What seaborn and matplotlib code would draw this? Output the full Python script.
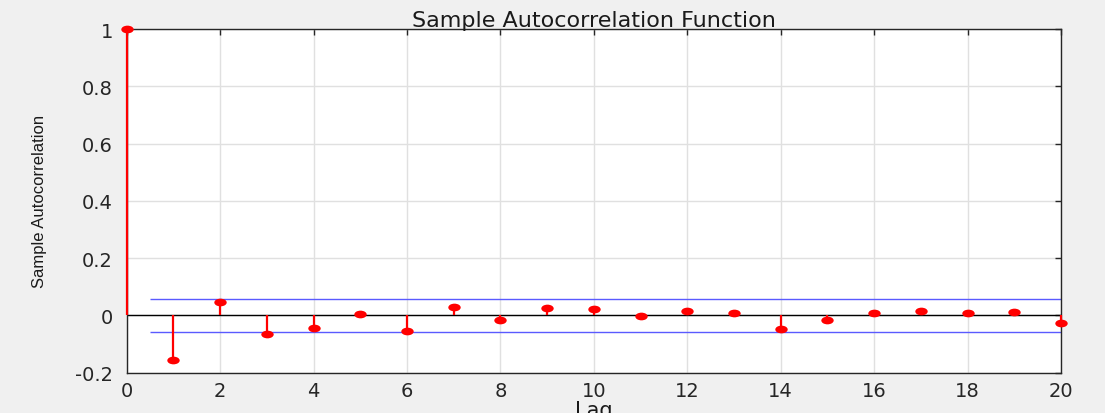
import numpy as np
import pandas as pd
import matplotlib
matplotlib.use("Agg")
import matplotlib.pyplot as plt
from matplotlib.path import Path
from matplotlib.transforms import Affine2D
import seaborn as sns


# ---------------- DATA ---------------- #

lags = list(range(0, 21))
acf_values = [1.0, -0.157, 0.045, -0.065, -0.044, 0.005, -0.054, 0.030, -0.017, 0.027,
              0.023, -0.001, 0.014, 0.009, -0.047, -0.015, 0.008, 0.015, 0.009, 0.012, -0.028]
bound_upper = 0.058
bound_lower = -0.058
bound_start = 0.5
bound_end = 20

x_ticks = [0, 2, 4, 6, 8, 10, 12, 14, 16, 18, 20]
y_ticks = [-0.2, 0, 0.2, 0.4, 0.6, 0.8, 1]
y_tick_labels = ["-0.2", "0", "0.2", "0.4", "0.6", "0.8", "1"]

df = pd.DataFrame({"Lag": lags, "ACF": acf_values})


# ---------------- STYLE ---------------- #

sns.set_theme(style="white")
plt.rcParams['font.family'] = ['DejaVu Sans']

fig = plt.figure(figsize=(11.05, 4.14), dpi=100, facecolor="#f0f0f0")
ax = fig.add_axes([0.1147, 0.0976, 0.8455, 0.8299])
ax.set_facecolor("white")

# slightly flattened dot, like the stretched original
dot = Path.unit_circle().transformed(Affine2D().scale(1.0, 0.62))


# ---------------- PLOT ---------------- #

ax.grid(True, color="#e0e0e0", linewidth=1)
ax.set_axisbelow(True)

ax.axhline(0, color="black", linewidth=1, zorder=2)

ax.hlines([bound_upper, bound_lower], bound_start, bound_end,
          color="#5a5aff", linewidth=1, zorder=2)

ax.vlines(df["Lag"], 0, df["ACF"], color="red", linewidth=1.6, zorder=5, clip_on=False)

sns.scatterplot(data=df, x="Lag", y="ACF", ax=ax, marker=dot, s=80,
                color="red", edgecolor="red", linewidth=0, zorder=6, clip_on=False)


# ---------------- AXES ---------------- #

ax.set_xlim(0, 20)
ax.set_ylim(-0.2, 1)
ax.set_xticks(x_ticks)
ax.set_yticks(y_ticks)
ax.set_yticklabels(y_tick_labels)

ax.tick_params(direction="in", length=4, width=1, top=True, right=True,
               labelsize=14, colors="#262626", pad=6)
ax.tick_params(axis="y", pad=10)

for sp in ax.spines.values():
    sp.set_color("#262626")
    sp.set_linewidth(1)

ax.set_title("Sample Autocorrelation Function", fontsize=16, color="#1a1a1a", pad=2)
ax.set_xlabel("Lag", fontsize=15, color="#1a1a1a", labelpad=0)
ax.set_ylabel("Sample Autocorrelation", fontsize=12, color="#1a1a1a",
              family=['Liberation Sans', 'DejaVu Sans'], labelpad=20)

fig.savefig("out.png", dpi=100, facecolor=fig.get_facecolor())
plt.close(fig)
